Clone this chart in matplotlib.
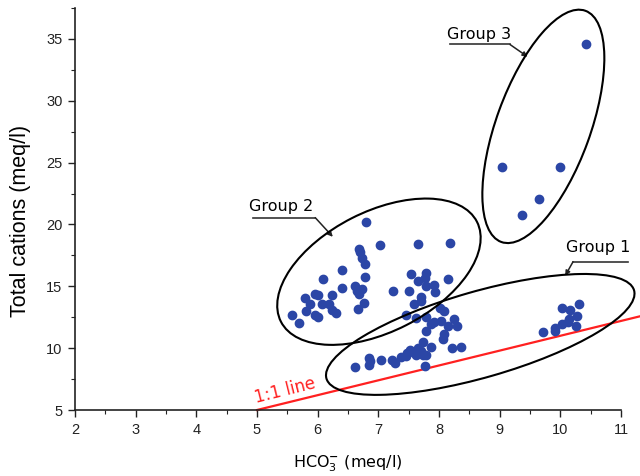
import matplotlib
matplotlib.use("Agg")
import matplotlib.pyplot as plt
from matplotlib.patches import Ellipse
from matplotlib.transforms import ScaledTranslation

# ---------------- data ----------------
g1_x = [6.62, 6.85, 6.87, 6.84, 7.04, 7.23, 7.27, 7.38, 7.45, 7.48, 7.52, 7.57,
        7.62, 7.66, 7.70, 7.73, 7.79, 7.77, 7.73, 7.86, 8.22, 8.36, 7.79, 8.09,
        8.06, 7.79, 7.91, 8.04, 7.86, 8.15, 8.29, 8.25, 8.02, 8.09, 7.62, 7.46,
        10.31, 10.02, 10.16, 10.27, 10.15, 10.12, 10.02, 9.92, 9.91, 10.26, 9.71]
g1_y = [8.50, 9.22, 8.94, 8.66, 9.06, 9.02, 8.82, 9.29, 9.34, 9.59, 9.83, 9.67,
        9.42, 10.04, 9.79, 9.48, 9.42, 8.54, 10.51, 10.11, 10.01, 10.09, 11.40, 11.11,
        10.71, 12.48, 12.12, 12.20, 11.92, 11.77, 11.76, 12.32, 13.21, 13.00, 12.46, 12.64,
        13.53, 13.23, 13.05, 12.56, 12.38, 12.10, 11.98, 11.62, 11.40, 11.76, 11.32]

g2_x = [6.80, 7.02, 7.65, 8.18, 6.68, 6.69, 6.73, 6.78, 6.40, 6.08, 6.78, 7.54,
        7.78, 7.77, 7.65, 8.15, 7.79, 7.92, 7.93, 7.24, 7.51, 6.40, 6.62, 6.65,
        6.73, 6.68, 5.95, 6.01, 6.24, 5.79, 7.71, 7.71, 5.88, 6.07, 6.19, 6.76,
        7.59, 5.81, 6.24, 6.30, 6.67, 5.57, 5.95, 6.01, 5.69]
g2_y = [20.23, 18.33, 18.43, 18.54, 18.01, 17.74, 17.28, 16.77, 16.32, 15.56, 15.72, 16.00,
        16.05, 15.68, 15.40, 15.60, 15.03, 15.11, 14.55, 14.63, 14.65, 14.87, 15.00, 14.65,
        14.81, 14.39, 14.41, 14.28, 14.28, 14.07, 14.12, 13.85, 13.53, 13.58, 13.53, 13.63,
        13.53, 12.99, 13.05, 12.83, 13.13, 12.72, 12.72, 12.51, 12.06]

g3_x = [10.43, 9.04, 9.99, 9.65, 9.36]
g3_y = [34.55, 24.61, 24.61, 22.04, 20.77]

line_x = [5.0, 11.3]
line_y = [5.0, 12.56]

group_names = ["Group 1", "Group 2", "Group 3"]
# ellipse centres (data), semi-axes (pixels), angle (deg, display)
ell_cx = [8.68, 7.01, 9.72]
ell_cy = [11.11, 16.18, 27.93]
ell_a = [160, 110, 123]
ell_b = [43, 60, 47]
ell_ang = [16, 27, 70]

# label text centres, underline ends, arrow tips (data)
lab_x = [10.62, 5.40, 8.66]
lab_y = [18.11, 21.45, 35.33]
ul_x0 = [10.21, 4.93, 8.18]
ul_x1 = [11.11, 5.96, 9.17]
ul_y = [16.99, 20.55, 34.55]
ul_start = [0, 1, 1]  # leader starts from left (0) or right (1) end
tip_x = [10.08, 6.25, 9.46]
tip_y = [15.86, 19.00, 33.56]

xticks = list(range(2, 12))
yticks = [5, 10, 15, 20, 25, 30, 35]

# ---------------- figure ----------------
DPI = 100
fig = plt.figure(figsize=(6.4, 4.76), dpi=DPI)
ax = fig.add_axes([75 / 640, 66 / 476, 546 / 640, 402 / 476])

ax.set_xlim(2, 11)
ax.set_ylim(5, 37.3)

for s in ["top", "right"]:
    ax.spines[s].set_visible(False)
for s in ["left", "bottom"]:
    ax.spines[s].set_linewidth(1.2)
    ax.spines[s].set_color("#222222")

ax.set_xticks(xticks)
ax.set_yticks(yticks)
ax.set_xticks([v + 0.5 for v in xticks[:-1]], minor=True)
ax.set_yticks([v + 2.5 for v in yticks], minor=True)
ax.tick_params(which="major", direction="out", length=5, width=1, colors="#222222",
               labelsize=10.5, pad=4)
ax.tick_params(which="minor", direction="out", length=3, width=0.8, colors="#222222")
for lab in ax.get_xticklabels() + ax.get_yticklabels():
    lab.set_family("Liberation Sans")

ax.set_ylabel("Total cations (meq/l)", family="Liberation Sans", fontsize=15.5)
ax.yaxis.set_label_coords(-0.081, 0.47)
ax.set_xlabel(r"HCO$_3^{\mathbf{-}}$ (meq/l)", family="DejaVu Sans", fontsize=11.5, labelpad=12)

# 1:1 line
ax.plot(line_x, line_y, color="#ff2020", lw=1.6, clip_on=False, zorder=2)
ax.text(5.46, 6.53, "1:1 line", color="#ff2020", fontsize=12, family="DejaVu Sans",
        rotation=14, rotation_mode="anchor", ha="center", va="center")

# points
col = "#2b46a6"
for xs, ys in [(g1_x, g1_y), (g2_x, g2_y), (g3_x, g3_y)]:
    ax.plot(xs, ys, "o", color=col, markersize=6, mec=col, zorder=3, clip_on=False)

# ellipses
for cx, cy, a, b, ang in zip(ell_cx, ell_cy, ell_a, ell_b, ell_ang):
    tr = fig.dpi_scale_trans + ScaledTranslation(cx, cy, ax.transData)
    e = Ellipse((0, 0), 2 * a / DPI, 2 * b / DPI, angle=ang, transform=tr,
                fill=False, ec="black", lw=1.5, clip_on=False, zorder=4)
    ax.add_patch(e)

# group labels with underline + leader arrow
for name, lx, ly, x0, x1, uy, st, tx, ty in zip(group_names, lab_x, lab_y, ul_x0, ul_x1,
                                                 ul_y, ul_start, tip_x, tip_y):
    ax.text(lx, ly, name, fontsize=11.5, family="DejaVu Sans", ha="center", va="center",
            color="black", clip_on=False)
    ax.plot([x0, x1], [uy, uy], color="#333333", lw=1.2, clip_on=False)
    sx = x1 if st == 1 else x0
    ax.annotate("", xy=(tx, ty), xytext=(sx, uy),
                arrowprops=dict(arrowstyle="-|>", color="#222222", lw=1.1,
                                mutation_scale=7, shrinkA=0, shrinkB=0),
                annotation_clip=False)

fig.savefig("out.png", dpi=DPI)
